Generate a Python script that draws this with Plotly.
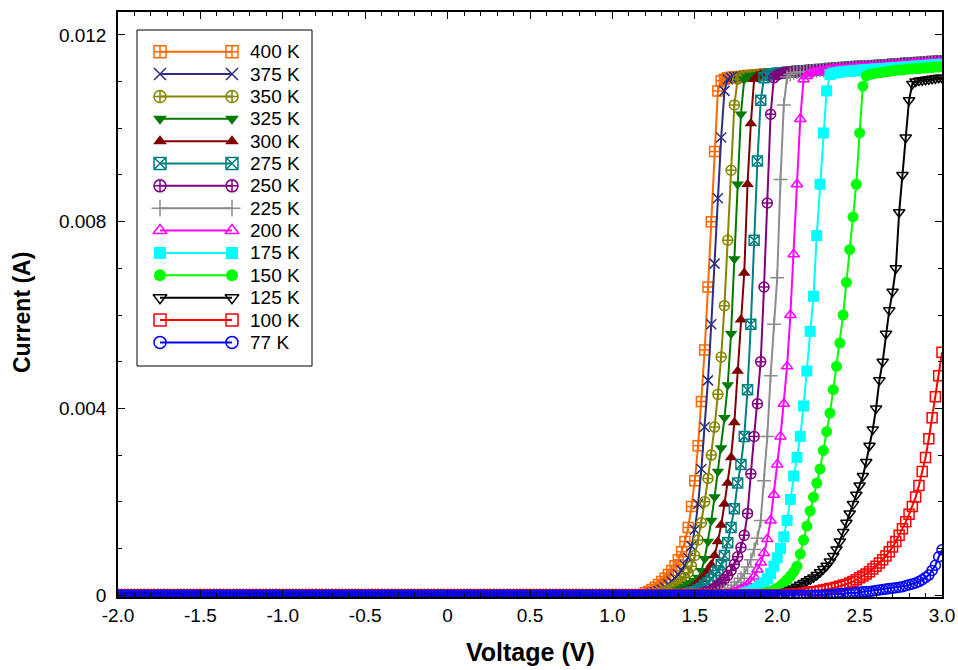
import numpy as np
import plotly.graph_objects as go

# ---------------- data (currents in mA, sampled every 0.02 V) ----------------
VOLTAGE = np.round(np.arange(-2.0, 3.0 + 1e-9, 0.02), 2)   # sweep grid (V)

LABELS = ["400 K", "375 K", "350 K", "325 K", "300 K", "275 K", "250 K",
          "225 K", "200 K", "175 K", "150 K", "125 K", "100 K", "77 K"]

# voltage where each listed series starts; before it the reading is BASE_MA
ONSET = [1.20, 1.24, 1.28, 1.34, 1.40, 1.46, 1.54, 1.64, 1.72, 1.80, 1.90, 2.00, 2.06, 2.30]
BASE_MA = [0, 0, 0, -0.11, -0.06, 0, 0, 0, 0, 0, 0, 0, 0, 0]

I400 = [0.05, 0.08, 0.12, 0.17, 0.23,
        0.29, 0.36, 0.44, 0.53, 0.63,
        0.76, 0.93, 1.15, 1.45, 1.90,
        2.45, 3.20, 4.15, 5.25, 6.60,
        8.00, 9.50, 10.80, 11.02, 11.05,
        11.08, 11.09, 11.10, 11.10, 11.11,
        11.12, 11.13, 11.13, 11.14, 11.14,
        11.15, 11.16, 11.16, 11.17, 11.17,
        11.18, 11.19, 11.19, 11.20, 11.20,
        11.21, 11.22, 11.22, 11.23, 11.23,
        11.24, 11.25, 11.25, 11.26, 11.26,
        11.27, 11.28, 11.28, 11.29, 11.29,
        11.30, 11.30, 11.31, 11.31, 11.32,
        11.32, 11.33, 11.33, 11.34, 11.34,
        11.34, 11.35, 11.35, 11.36, 11.36,
        11.37, 11.37, 11.38, 11.38, 11.39,
        11.39, 11.40, 11.40, 11.41, 11.41,
        11.42, 11.42, 11.43, 11.43, 11.44,
        11.44]
I375 = [0.04, 0.06, 0.09,
        0.12, 0.17, 0.23, 0.29, 0.36,
        0.44, 0.53, 0.64, 0.80, 1.05,
        1.40, 1.95, 2.70, 3.60, 4.60,
        5.80, 7.10, 8.50, 9.80, 10.80,
        11.05, 11.08, 11.10, 11.10, 11.11,
        11.12, 11.13, 11.13, 11.14, 11.14,
        11.15, 11.16, 11.16, 11.17, 11.17,
        11.18, 11.19, 11.19, 11.20, 11.20,
        11.21, 11.22, 11.22, 11.23, 11.23,
        11.24, 11.25, 11.25, 11.26, 11.26,
        11.27, 11.28, 11.28, 11.29, 11.29,
        11.30, 11.30, 11.31, 11.31, 11.32,
        11.32, 11.33, 11.33, 11.34, 11.34,
        11.34, 11.35, 11.35, 11.36, 11.36,
        11.37, 11.37, 11.38, 11.38, 11.39,
        11.39, 11.40, 11.40, 11.41, 11.41,
        11.42, 11.42, 11.43, 11.43, 11.44,
        11.44]
I350 = [0.04,
        0.06, 0.08, 0.11, 0.15, 0.19,
        0.24, 0.30, 0.38, 0.48, 0.62,
        0.85, 1.18, 1.55, 2.00, 2.50,
        3.00, 3.60, 4.30, 5.10, 6.20,
        7.60, 9.10, 10.50, 11.05, 11.10,
        11.12, 11.13, 11.13, 11.14, 11.14,
        11.15, 11.16, 11.16, 11.17, 11.17,
        11.18, 11.19, 11.19, 11.20, 11.20,
        11.21, 11.22, 11.22, 11.23, 11.23,
        11.24, 11.25, 11.25, 11.26, 11.26,
        11.27, 11.28, 11.28, 11.29, 11.29,
        11.30, 11.30, 11.31, 11.31, 11.32,
        11.32, 11.33, 11.33, 11.34, 11.34,
        11.34, 11.35, 11.35, 11.36, 11.36,
        11.37, 11.37, 11.38, 11.38, 11.39,
        11.39, 11.40, 11.40, 11.41, 11.41,
        11.42, 11.42, 11.43, 11.43, 11.44,
        11.44]
I325 = [0.04, 0.06, 0.08,
        0.11, 0.14, 0.18, 0.22, 0.26,
        0.31, 0.38, 0.52, 0.78, 1.15,
        1.60, 2.10, 2.65, 3.15, 3.80,
        4.50, 5.60, 7.20, 8.80, 10.30,
        11.05, 11.10, 11.12, 11.13, 11.14,
        11.15, 11.16, 11.16, 11.17, 11.17,
        11.18, 11.19, 11.19, 11.20, 11.20,
        11.21, 11.22, 11.22, 11.23, 11.23,
        11.24, 11.25, 11.25, 11.26, 11.26,
        11.27, 11.28, 11.28, 11.29, 11.29,
        11.30, 11.30, 11.31, 11.31, 11.32,
        11.32, 11.33, 11.33, 11.34, 11.34,
        11.34, 11.35, 11.35, 11.36, 11.36,
        11.37, 11.37, 11.38, 11.38, 11.39,
        11.39, 11.40, 11.40, 11.41, 11.41,
        11.42, 11.42, 11.43, 11.43, 11.44,
        11.44]
I300 = [0.04, 0.06, 0.08, 0.11, 0.15,
        0.21, 0.27, 0.34, 0.42, 0.52,
        0.65, 0.85, 1.15, 1.50, 1.95,
        2.40, 2.95, 3.70, 4.80, 5.90,
        6.90, 8.80, 10.10, 11.05, 11.12,
        11.15, 11.16, 11.16, 11.17, 11.17,
        11.18, 11.19, 11.19, 11.20, 11.20,
        11.21, 11.22, 11.22, 11.23, 11.23,
        11.24, 11.25, 11.25, 11.26, 11.26,
        11.27, 11.28, 11.28, 11.29, 11.29,
        11.30, 11.30, 11.31, 11.31, 11.32,
        11.32, 11.33, 11.33, 11.34, 11.34,
        11.34, 11.35, 11.35, 11.36, 11.36,
        11.37, 11.37, 11.38, 11.38, 11.39,
        11.39, 11.40, 11.40, 11.41, 11.41,
        11.42, 11.42, 11.43, 11.43, 11.44,
        11.44]
I275 = [0.04, 0.06,
        0.08, 0.11, 0.15, 0.21, 0.27,
        0.34, 0.42, 0.52, 0.65, 0.85,
        1.12, 1.45, 1.85, 2.40, 2.80,
        3.40, 4.40, 5.80, 7.60, 9.30,
        10.60, 11.08, 11.14, 11.16, 11.17,
        11.18, 11.19, 11.19, 11.20, 11.20,
        11.21, 11.22, 11.22, 11.23, 11.23,
        11.24, 11.25, 11.25, 11.26, 11.26,
        11.27, 11.28, 11.28, 11.29, 11.29,
        11.30, 11.30, 11.31, 11.31, 11.32,
        11.32, 11.33, 11.33, 11.34, 11.34,
        11.34, 11.35, 11.35, 11.36, 11.36,
        11.37, 11.37, 11.38, 11.38, 11.39,
        11.39, 11.40, 11.40, 11.41, 11.41,
        11.42, 11.42, 11.43, 11.43, 11.44,
        11.44]
I250 = [0.04, 0.06, 0.08,
        0.11, 0.15, 0.21, 0.27, 0.34,
        0.42, 0.53, 0.66, 0.82, 1.02,
        1.28, 1.75, 2.60, 3.40, 4.10,
        5.00, 6.60, 8.40, 10.30, 11.08,
        11.14, 11.17, 11.19, 11.20, 11.20,
        11.21, 11.22, 11.22, 11.23, 11.23,
        11.24, 11.25, 11.25, 11.26, 11.26,
        11.27, 11.28, 11.28, 11.29, 11.29,
        11.30, 11.30, 11.31, 11.31, 11.32,
        11.32, 11.33, 11.33, 11.34, 11.34,
        11.34, 11.35, 11.35, 11.36, 11.36,
        11.37, 11.37, 11.38, 11.38, 11.39,
        11.39, 11.40, 11.40, 11.41, 11.41,
        11.42, 11.42, 11.43, 11.43, 11.44,
        11.44]
I225 = [0.04, 0.06, 0.08,
        0.11, 0.15, 0.21, 0.28, 0.36,
        0.46, 0.60, 0.76, 0.98, 1.22,
        1.60, 2.45, 3.40, 4.70, 5.80,
        6.80, 8.90, 10.50, 11.10, 11.15,
        11.19, 11.20, 11.20, 11.21, 11.21,
        11.22, 11.23, 11.23, 11.24, 11.24,
        11.25, 11.26, 11.26, 11.27, 11.27,
        11.28, 11.28, 11.29, 11.29, 11.30,
        11.30, 11.31, 11.31, 11.32, 11.32,
        11.32, 11.33, 11.33, 11.34, 11.34,
        11.35, 11.35, 11.36, 11.36, 11.37,
        11.37, 11.38, 11.38, 11.39, 11.39,
        11.40, 11.40, 11.41, 11.41, 11.42,
        11.42]
I200 = [0.04, 0.06, 0.09, 0.13,
        0.17, 0.22, 0.30, 0.40, 0.55,
        0.70, 0.90, 1.20, 1.60, 2.15,
        2.80, 3.40, 4.10, 4.90, 6.00,
        7.30, 8.80, 10.20, 11.05, 11.12,
        11.18, 11.20, 11.21, 11.22, 11.22,
        11.25, 11.26, 11.26, 11.27, 11.27,
        11.28, 11.28, 11.29, 11.29, 11.30,
        11.30, 11.31, 11.31, 11.32, 11.32,
        11.32, 11.33, 11.33, 11.34, 11.34,
        11.35, 11.35, 11.36, 11.36, 11.37,
        11.37, 11.38, 11.38, 11.39, 11.39,
        11.40, 11.40, 11.41, 11.41, 11.42,
        11.42]
I175 = [0.04, 0.06, 0.08, 0.11, 0.15,
        0.21, 0.27, 0.35, 0.46, 0.62,
        0.80, 1.00, 1.25, 1.60, 2.05,
        2.55, 2.95, 3.40, 4.05, 4.80,
        5.65, 6.40, 7.70, 8.80, 9.90,
        10.80, 11.15, 11.18, 11.19, 11.20,
        11.21, 11.22, 11.22, 11.23, 11.23,
        11.24, 11.25, 11.25, 11.26, 11.26,
        11.27, 11.27, 11.28, 11.28, 11.29,
        11.29, 11.30, 11.30, 11.31, 11.31,
        11.32, 11.32, 11.33, 11.33, 11.34,
        11.34, 11.35, 11.35, 11.36, 11.36,
        11.37]
I150 = [0.03, 0.04, 0.06, 0.08, 0.11,
        0.15, 0.20, 0.26, 0.33, 0.41,
        0.50, 0.62, 0.88, 1.18, 1.48,
        1.80, 2.10, 2.40, 2.70, 3.10,
        3.50, 3.90, 4.40, 4.90, 5.40,
        6.00, 6.70, 7.40, 8.10, 8.80,
        9.90, 10.90, 11.12, 11.15, 11.17,
        11.18, 11.19, 11.20, 11.21, 11.22,
        11.23, 11.24, 11.25, 11.25, 11.26,
        11.27, 11.27, 11.28, 11.28, 11.29,
        11.29, 11.30, 11.30, 11.31, 11.31,
        11.32]
I125 = [0.03, 0.04, 0.06, 0.08, 0.11,
        0.14, 0.18, 0.22, 0.26, 0.30,
        0.34, 0.38, 0.43, 0.49, 0.56,
        0.63, 0.72, 0.84, 0.98, 1.15,
        1.35, 1.55, 1.75, 1.95, 2.15,
        2.35, 2.55, 2.85, 3.20, 3.55,
        4.00, 4.60, 5.00, 5.60, 6.10,
        6.50, 7.00, 8.20, 9.00, 9.80,
        10.60, 10.95, 11.00, 11.02, 11.03,
        11.04, 11.05, 11.06, 11.07, 11.08,
        11.08]
I100 = [0.01, 0.02,
        0.02, 0.03, 0.03, 0.04, 0.05,
        0.06, 0.07, 0.08, 0.09, 0.11,
        0.12, 0.14, 0.15, 0.17, 0.19,
        0.21, 0.23, 0.26, 0.29, 0.33,
        0.37, 0.41, 0.45, 0.50, 0.56,
        0.62, 0.69, 0.76, 0.84, 0.93,
        1.03, 1.15, 1.28, 1.42, 1.57,
        1.73, 1.90, 2.10, 2.35, 2.65,
        2.95, 3.35, 3.80, 4.25, 4.70,
        5.20]
I77 = [0.01, 0.01, 0.02, 0.02, 0.03,
       0.03, 0.04, 0.04, 0.05, 0.05,
       0.06, 0.07, 0.08, 0.08, 0.09,
       0.10, 0.11, 0.12, 0.13, 0.14,
       0.15, 0.16, 0.17, 0.18, 0.20,
       0.22, 0.24, 0.26, 0.29, 0.33,
       0.38, 0.43, 0.53, 0.64, 0.82,
       0.97]

CURRENTS_MA = [I400, I375, I350, I325, I300, I275, I250,
               I225, I200, I175, I150, I125, I100, I77]

X_TICKS = [-2.0, -1.5, -1.0, -0.5, 0, 0.5, 1.0, 1.5, 2.0, 2.5, 3.0]
X_TICK_TEXT = ["-2.0", "-1.5", "-1.0", "-0.5", "0", "0.5", "1.0", "1.5", "2.0", "2.5", "3.0"]
Y_TICKS = [0, 0.004, 0.008, 0.012]
Y_TICK_TEXT = ["0", "0.004", "0.008", "0.012"]

# ---------------- styles ----------------
COLORS = ["#FF6A00", "#2E2E80", "#858500", "#007A00", "#800000", "#008080", "#800080",
          "#8C8C8C", "#FF00FF", "#00FFFF", "#00FF00", "#000000", "#FF0000", "#0000FF"]
SYMBOLS = ["square-cross-open", "x-thin-open", "circle-cross-open", "triangle-down",
           "triangle-up", "square-x-open", "circle-cross-open", "cross-thin-open",
           "triangle-up-open", "square", "circle", "triangle-down-open",
           "square-open", "circle-open"]

FONT = "Liberation Sans, Arial, sans-serif"


def full_series(onset, base, vals):
    out = np.full(len(VOLTAGE), float(base))
    i0 = int(round((onset - VOLTAGE[0]) / 0.02))
    n = min(len(vals), len(VOLTAGE) - i0)
    out[i0:i0 + n] = vals[:n]
    if i0 + n < len(VOLTAGE):
        out[i0 + n:] = vals[-1]
    return out / 1000.0  # mA -> A


fig = go.Figure()
for k, lab in enumerate(LABELS):
    y = full_series(ONSET[k], BASE_MA[k], CURRENTS_MA[k])
    sym = SYMBOLS[k]
    is_open = sym.endswith("open")
    fig.add_trace(go.Scatter(
        x=VOLTAGE, y=y, mode="lines+markers", name=lab,
        line=dict(color=COLORS[k], width=2),
        marker=dict(symbol=sym, size=10 if is_open else 11, color=COLORS[k],
                    line=dict(color=COLORS[k], width=1.5 if is_open else 0)),
        showlegend=False))

# ---------------- hand-made legend (line with a marker at each end) ----------------
PLOT_W, PLOT_H = 824, 585
ROW0, ROW_STEP = 51.7, 22.36     # page pixels
PLOT_LEFT, PLOT_BOTTOM = 118, 597
for k, lab in enumerate(LABELS):
    yy = PLOT_BOTTOM - (ROW0 + ROW_STEP * k)
    sym = SYMBOLS[k]
    is_open = sym.endswith("open")
    fig.add_trace(go.Scatter(
        x=[160 - PLOT_LEFT, 232 - PLOT_LEFT], y=[yy, yy], xaxis="x2", yaxis="y2",
        mode="lines+markers", line=dict(color=COLORS[k], width=2),
        marker=dict(symbol=sym, size=12, color=COLORS[k],
                    line=dict(color=COLORS[k], width=1.5 if is_open else 0)),
        showlegend=False, hoverinfo="skip"))
    fig.add_annotation(x=248 - PLOT_LEFT, y=yy, xref="x2", yref="y2", text=lab,
                       showarrow=False, xanchor="left", yanchor="middle",
                       font=dict(family=FONT, size=19, color="black"))

fig.add_shape(type="rect", xref="x2", yref="y2",
              x0=137 - PLOT_LEFT, x1=312 - PLOT_LEFT,
              y0=PLOT_BOTTOM - 366, y1=PLOT_BOTTOM - 30,
              line=dict(color="black", width=1), fillcolor="rgba(0,0,0,0)")

# axis titles
fig.add_annotation(text="<b>Voltage (V)</b>", xref="paper", yref="paper",
                   x=0.5, y=(PLOT_BOTTOM - 652) / PLOT_H, showarrow=False,
                   xanchor="center", yanchor="middle",
                   font=dict(family=FONT, size=25, color="black"))
fig.add_annotation(text="<b>Current (A)</b>", xref="paper", yref="paper",
                   x=(22 - PLOT_LEFT) / PLOT_W, y=(PLOT_BOTTOM - 313) / PLOT_H,
                   showarrow=False, textangle=-90, xanchor="center", yanchor="middle",
                   font=dict(family=FONT, size=23, color="black"))

axis_common = dict(showline=True, linecolor="black", linewidth=1.5, mirror="ticks",
                   ticks="inside", tickcolor="black", tickwidth=1.2,
                   showgrid=False, zeroline=False, automargin=False,
                   tickfont=dict(family=FONT, size=19, color="black"))

fig.update_layout(
    width=958, height=670,
    margin=dict(l=118, r=16, t=12, b=73),
    paper_bgcolor="white", plot_bgcolor="white",
    showlegend=False,
    xaxis=dict(range=[-2.0, 3.0], tickmode="array", tickvals=X_TICKS, ticktext=X_TICK_TEXT,
               ticklen=7, minor=dict(ticks="inside", ticklen=4, dtick=0.1, tick0=0,
                                     tickcolor="black"),
               **axis_common),
    yaxis=dict(range=[-0.00004, 0.01249], tickmode="array", tickvals=Y_TICKS,
               ticktext=Y_TICK_TEXT, ticklen=7, ticklabelstandoff=6,
               minor=dict(ticks="inside", ticklen=4, dtick=0.001, tick0=0,
                          tickcolor="black"),
               **axis_common),
    xaxis2=dict(overlaying="x", range=[0, PLOT_W], visible=False, fixedrange=True),
    yaxis2=dict(overlaying="y", range=[0, PLOT_H], visible=False, fixedrange=True),
)

fig.write_html("out.html")
